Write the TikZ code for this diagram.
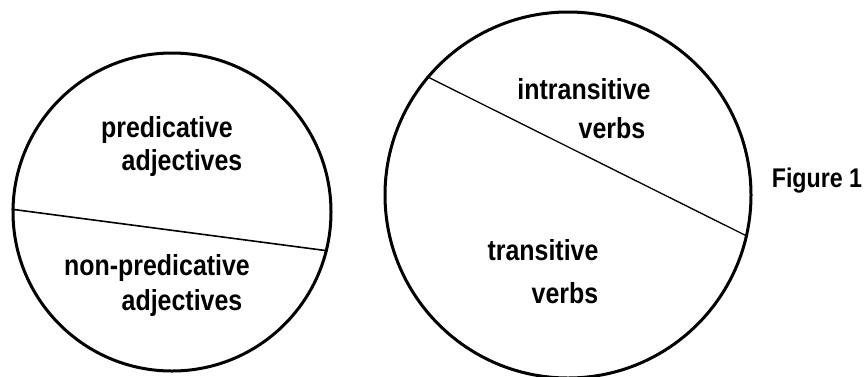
\documentclass[tikz,border=0pt]{standalone}
\usepackage{fontspec}
\setmainfont{Liberation Sans}[FakeStretch=0.86]
\usepackage{tikz}
\usetikzlibrary{positioning}

\tikzset{
  setcircle/.style={draw,circle,line width=3pt,inner sep=0pt},
  divider/.style={line width=1.6pt},
  lbl/.style={font=\fontsize{29}{33}\selectfont\bfseries,inner sep=0pt}
}

\begin{document}
\begin{tikzpicture}[x=1pt,y=-1pt]
    \useasboundingbox (0,0) rectangle (867,376);
    % adjectives
    \node[setcircle,minimum size=318pt] (adj) at (172,212) {};
    \draw[divider] (adj.179) -- (adj.-14);
    \node[lbl] (pred1) at (167,130) {predicative};
    \node[lbl] (pred2) at (182,163) {adjectives};
    \node[lbl] (npred1) at (157,268) {non-predicative};
    \node[lbl] (npred2) at (182,303) {adjectives};
    % verbs
    \node[setcircle,minimum size=366pt] (verb) at (568,195) {};
    \draw[divider,line width=1.3pt] (verb.140) -- (verb.-13);
    \node[lbl] (intr1) at (584,89) {intransitive};
    \node[lbl] (intr2) at (612,128) {verbs};
    \node[lbl] (tr1) at (543,250) {transitive};
    \node[lbl] (tr2) at (565,293) {verbs};
    \node[lbl,font=\fontsize{27}{31}\selectfont\bfseries] (fig) at (817,181) {Figure 1};
  \end{tikzpicture}
\end{document}
